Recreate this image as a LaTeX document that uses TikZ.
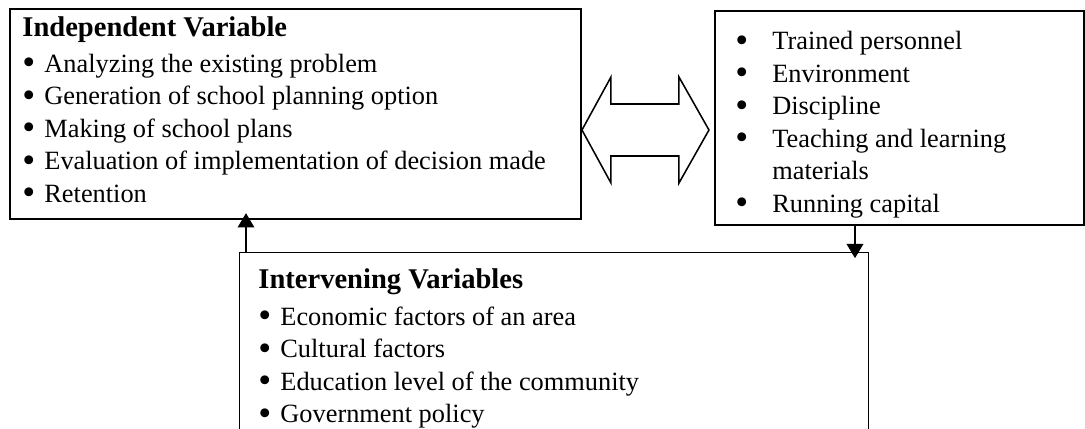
\documentclass[tikz,border=0pt]{standalone}
\usepackage{fontspec}
\setmainfont{Liberation Serif}
\usetikzlibrary{arrows.meta,calc}

\tikzset{
  varbox/.style={draw, line width=0.9pt, rectangle, inner sep=0pt, anchor=north west},
  vartext/.style={anchor=north west, inner sep=0pt, align=left, font=\fontsize{12}{14.8}\selectfont},
  flow/.style={line width=1.3pt, -{Triangle[width=2.6mm,length=2.3mm]}},
  dblarrow/.style={line width=0.7pt, line join=miter}
}
\newcommand{\bigbul}{\raisebox{-1.2pt}{\scalebox{1.4}{\textbullet}}}
\newcommand{\lbul}{\makebox[10pt][l]{\bigbul}}
\newcommand{\rbul}{\makebox[16.8pt][l]{\bigbul}}
\newcommand{\vhead}[1]{{\fontsize{13}{14.8}\selectfont\bfseries #1}}

\begin{document}
\begin{tikzpicture}[x=0.16mm,y=-0.16mm]
\useasboundingbox (0,0) rectangle (1085,428);
\clip (0,0) rectangle (1085,428);

% the three boxes
\node[varbox, minimum width=91.36mm, minimum height=33.6mm] (indep) at (9,8) {};
\node[varbox, minimum width=59.04mm, minimum height=34.24mm] (resources) at (714,10) {};
\node[varbox, line width=0.6pt, minimum width=100.64mm, minimum height=32mm] (interv) at (239,252) {};

% their texts
\node[vartext] (indeptext) at (22,16) {\vhead{Independent Variable}\\[1.6pt]
\lbul Analyzing the existing problem\\
\lbul Generation of school planning option\\
\lbul Making of school plans\\
\lbul Evaluation of implementation of decision made\\
\lbul Retention};

\node[vartext] (restext) at (735,31) {\rbul Trained personnel\\
\rbul Environment\\
\rbul Discipline\\
\rbul Teaching and learning\\
\hspace*{16.8pt}materials\\
\rbul Running capital};

\node[vartext] (intervtext) at (258,268) {\vhead{Intervening Variables}\\[2pt]
\lbul Economic factors of an area\\
\lbul Cultural factors\\
\lbul Education level of the community\\
\lbul Government policy};

% two-way arrow between the top boxes
\coordinate (lt) at (indep.east |- 0,130);
\draw[dblarrow] (lt) -- ++(29,-53) -- ++(0,27) -- ++(68,0) -- ++(0,-27) -- ++(30,53)
  -- ++(-30,53) -- ++(0,-27) -- ++(-68,0) -- ++(0,27) -- cycle;

% arrows to and from the intervening box
\draw[flow, shorten >=-1.1mm] (interv.north -| 246,0) -- (indep.south -| 246,0);
\draw[flow, shorten >=-1mm] (resources.south -| 855,0) -- (interv.north -| 855,0);
\end{tikzpicture}
\end{document}
